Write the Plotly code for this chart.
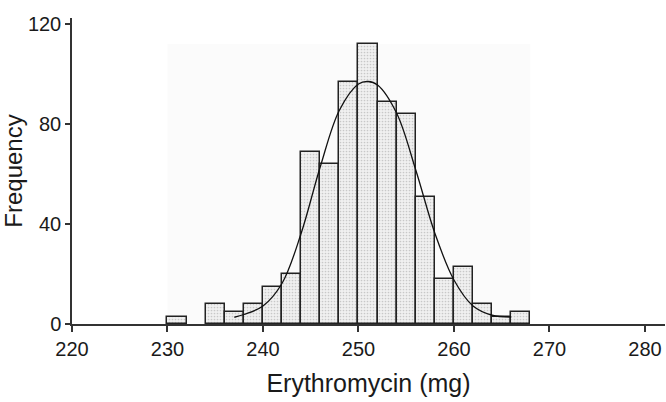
import plotly.graph_objects as go

# Histogram bins (left edges, mg) and frequencies
bin_start = [230, 234, 236, 238, 240, 242, 244, 246, 248, 250, 252, 254, 256, 258, 260, 262, 264, 266]
counts = [3, 8, 5, 8, 15, 20, 69, 64, 97, 112, 89, 84, 51, 18, 23, 8, 3, 5]
bin_width = 2

# Fitted curve, values
curve_x = [237, 238, 240, 242, 244, 246, 248, 250, 251, 252, 254, 256, 258, 260, 262, 264, 266]
curve_y = [2.7, 3.8, 7.2, 16.3, 36.3, 62.9, 85.5, 96.0, 97.0, 95.6, 84.3, 61.6, 36.3, 17.6, 7.2, 3.5, 2.8]

x_ticks = [220, 230, 240, 250, 260, 270, 280]
y_ticks = [0, 40, 80, 120]

FONT = "Liberation Sans, Arial, Helvetica, sans-serif"
INK = "#1a1a1a"
AXIS = "#333333"

fig = go.Figure()

fig.add_trace(go.Bar(
    x=bin_start, y=counts, width=bin_width, offset=0,
    marker=dict(
        color="#eeeeee",
        line=dict(color="#222222", width=1.5),
        pattern=dict(shape=".", fgcolor="#a0a0a0", bgcolor="#f0f0f0", size=3, solidity=0.25),
    ),
    hoverinfo="skip",
))

fig.add_trace(go.Scatter(
    x=curve_x, y=curve_y, mode="lines",
    line=dict(color="#111111", width=1.3, shape="spline", smoothing=1.0),
    hoverinfo="skip",
))

# faint shaded region behind the histogram
fig.add_shape(type="rect", xref="x", yref="y",
              x0=min(bin_start), x1=max(bin_start) + bin_width,
              y0=0, y1=max(counts),
              fillcolor="#fbfbfb", line=dict(width=0), layer="below")

fig.update_layout(
    width=666, height=402,
    margin=dict(l=72, r=1, t=18, b=78),
    paper_bgcolor="white", plot_bgcolor="white",
    showlegend=False, bargap=0,
    font=dict(family=FONT, color=INK, size=20),
)

fig.update_xaxes(
    range=[220, 282.1], tickvals=x_ticks, ticktext=[str(v) for v in x_ticks],
    showgrid=False, zeroline=False,
    showline=True, linecolor=AXIS, linewidth=1.5,
    ticks="outside", ticklen=6, tickwidth=1.5, tickcolor=AXIS,
    tickfont=dict(size=20, family=FONT, color=INK),
    title=dict(text="Erythromycin (mg)", font=dict(size=25, family=FONT, color=INK), standoff=16),
)
fig.update_yaxes(
    range=[0, 122.4], tickvals=y_ticks, ticktext=[str(v) for v in y_ticks],
    showgrid=False, zeroline=False,
    showline=True, linecolor=AXIS, linewidth=1.5,
    ticks="outside", ticklen=5, tickwidth=1.5, tickcolor=AXIS,
    tickfont=dict(size=20, family=FONT, color=INK),
    title=dict(text="Frequency", font=dict(size=24, family=FONT, color=INK), standoff=0),
)

fig.write_html("out.html")
